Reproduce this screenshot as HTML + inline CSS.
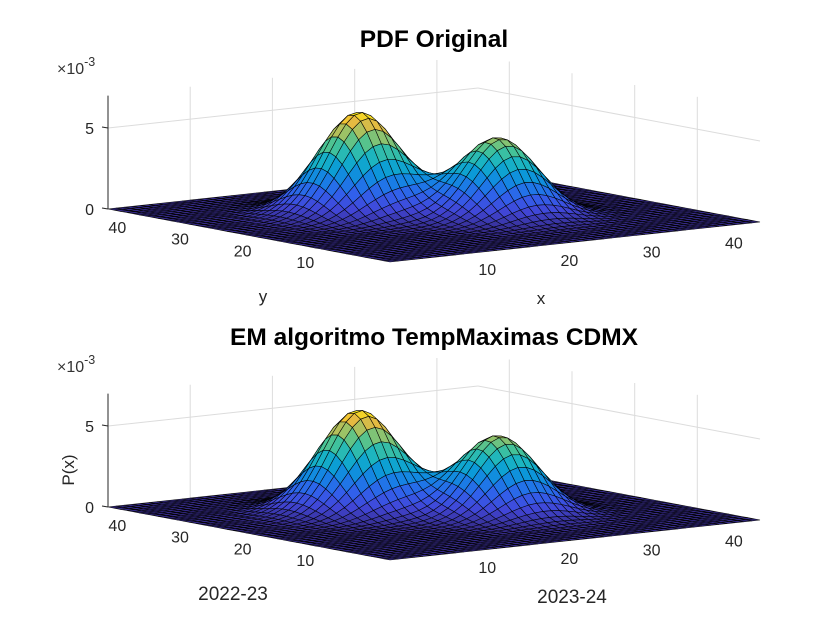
<!DOCTYPE html>
<html><head><meta charset="utf-8"><style>
body{margin:0;background:#fff;}
svg{display:block;font-family:"Liberation Sans",Arial,sans-serif;}
</style></head><body>
<svg id="fig" width="840" height="630" viewBox="0 0 840 630" xmlns="http://www.w3.org/2000/svg">
<rect width="840" height="630" fill="#fff"/>
<g id="top"></g>
<g id="bot"></g>
<text x="434" y="47" font-size="24.5" font-weight="bold" text-anchor="middle" fill="#000">PDF Original</text>
<text x="57" y="74" font-size="16" fill="#333">×10<tspan dy="-8" font-size="12.5">-3</tspan></text>
<text x="263" y="302" font-size="17" text-anchor="middle" fill="#262626">y</text>
<text x="541" y="304" font-size="17" text-anchor="middle" fill="#262626">x</text>
<text x="434" y="345" font-size="24.5" font-weight="bold" text-anchor="middle" fill="#000">EM algoritmo TempMaximas CDMX</text>
<text x="57" y="372" font-size="16" fill="#333">×10<tspan dy="-8" font-size="12.5">-3</tspan></text>
<text transform="translate(74,470) rotate(-90)" font-size="17" text-anchor="middle" fill="#262626">P(x)</text>
<text x="233" y="600" font-size="19" text-anchor="middle" fill="#262626">2022-23</text>
<text x="572" y="603" font-size="19" text-anchor="middle" fill="#262626">2023-24</text>
</svg>
<script>
// data
const gridMax = 45;
const xTicks = [10, 20, 30, 40];
const yTicks = [10, 20, 30, 40];
const zTicks = [0, 5];
const zTopVal = 7; // x1e-3
// mixture components - top plot
const topMuX = [17.8, 27.3];
const topMuY = [28.3, 18.6];
const topSig = [4.0, 3.9];
const topW = [0.625, 0.46];
// mixture components - bottom plot
const botMuX = [17.8, 27.3];
const botMuY = [28.3, 18.6];
const botSig = [4.0, 3.9];
const botW = [0.625, 0.46];

const cmapPos = [0, 0.04, 0.1, 0.2, 0.3, 0.4, 0.5, 0.625, 0.75, 0.875, 1];
const cmapCol = [[53,42,135],[58,55,170],[65,70,215],[50,95,235],[25,125,230],[10,155,215],[25,180,195],[70,195,150],[160,195,100],[240,185,60],[249,240,20]];
function parula(t){
  t=Math.max(0,Math.min(1,t));
  for(let i=1;i<cmapPos.length;i++){
    if(t<=cmapPos[i]){
      const f=(t-cmapPos[i-1])/(cmapPos[i]-cmapPos[i-1]);
      const a=cmapCol[i-1], b=cmapCol[i];
      return 'rgb('+Math.round(a[0]+f*(b[0]-a[0]))+','+Math.round(a[1]+f*(b[1]-a[1]))+','+Math.round(a[2]+f*(b[2]-a[2]))+')';
    }
  }
  return 'rgb(249,240,20)';
}
const NS='http://www.w3.org/2000/svg';
function mk(tag, attrs, parent){
  const e=document.createElementNS(NS,tag);
  for(const k in attrs) e.setAttribute(k, attrs[k]);
  parent.appendChild(e);
  return e;
}
function drawPlot(gid, oy, muX, muY, sig, w){
  const g=document.getElementById(gid);
  const P=(x,y,z)=>[390+x/gridMax*370-y/gridMax*282, oy+262-x/gridMax*40-y/gridMax*53-z*16.2];
  const pdf=(x,y)=>{let s=0;for(let k=0;k<muX.length;k++){const d=((x-muX[k])**2+(y-muY[k])**2)/(2*sig[k]*sig[k]);s+=w[k]/(2*Math.PI*sig[k]*sig[k])*Math.exp(-d);}return s*1000;};
  const grid=mk('g',{},g);
  
  
  const gl=(a,b)=>mk('line',{x1:a[0].toFixed(1),y1:a[1].toFixed(1),x2:b[0].toFixed(1),y2:b[1].toFixed(1),stroke:'#dcdcdc','stroke-width':1},grid);
  xTicks.forEach(t=>gl(P(t,gridMax,0),P(t,gridMax,zTopVal)));
  yTicks.forEach(t=>gl(P(gridMax,t,0),P(gridMax,t,zTopVal)));
  zTicks.forEach(t=>{gl(P(0,gridMax,t),P(gridMax,gridMax,t));gl(P(gridMax,gridMax,t),P(gridMax,0,t));});
  const Z=[];
  for(let i=0;i<=gridMax;i++){Z.push([]);for(let j=0;j<=gridMax;j++)Z[i].push(pdf(i,j));}
  let zmax=0;Z.forEach(r=>r.forEach(v=>{if(v>zmax)zmax=v;}));
  const faces=[];
  for(let i=0;i<gridMax;i++)for(let j=0;j<gridMax;j++)faces.push([i,j]);
  faces.sort((a,b)=>(0.889*b[0]+1.178*b[1])-(0.889*a[0]+1.178*a[1]));
  const surf=mk('g',{stroke:'#000','stroke-width':0.6,'stroke-opacity':0.9},g);
  
  
  faces.forEach(([i,j])=>{
    const pts=[P(i,j,Z[i][j]),P(i+1,j,Z[i+1][j]),P(i+1,j+1,Z[i+1][j+1]),P(i,j+1,Z[i][j+1])];
    const p=mk('polygon',{points:pts.map(q=>q[0].toFixed(1)+','+q[1].toFixed(1)).join(' '),fill:parula(Z[i][j]/zmax)},surf);
    
    
  });
  const a0=P(0,gridMax,0), a1=P(0,gridMax,zTopVal);
  const ax=mk('line',{x1:a0[0],y1:a0[1],x2:a1[0],y2:a1[1],stroke:'#262626','stroke-width':1},g);
  
  
  zTicks.forEach(t=>{
    const q=P(0,gridMax,t);
    mk('line',{x1:q[0]-6,y1:q[1]-1,x2:q[0],y2:q[1],stroke:'#262626'},g);
    const tx=mk('text',{x:q[0]-14,y:q[1]+6,'font-size':16,'text-anchor':'end',fill:'#262626'},g);
    tx.textContent=String(t);
    
    
  });
  xTicks.forEach(t=>{
    const q=P(t,0,0);
    const tx=mk('text',{x:q[0]+15,y:q[1]+22,'font-size':16,'text-anchor':'middle',fill:'#262626'},g);
    tx.textContent=String(t);
    
    
  });
  yTicks.forEach(t=>{
    const q=P(0,t,0);
    const tx=mk('text',{x:q[0]-22,y:q[1]+18,'font-size':16,'text-anchor':'middle',fill:'#262626'},g);
    tx.textContent=String(t);
    
    
  });
}
drawPlot('top',0,topMuX,topMuY,topSig,topW);
drawPlot('bot',298,botMuX,botMuY,botSig,botW);
</script>
</body></html>
